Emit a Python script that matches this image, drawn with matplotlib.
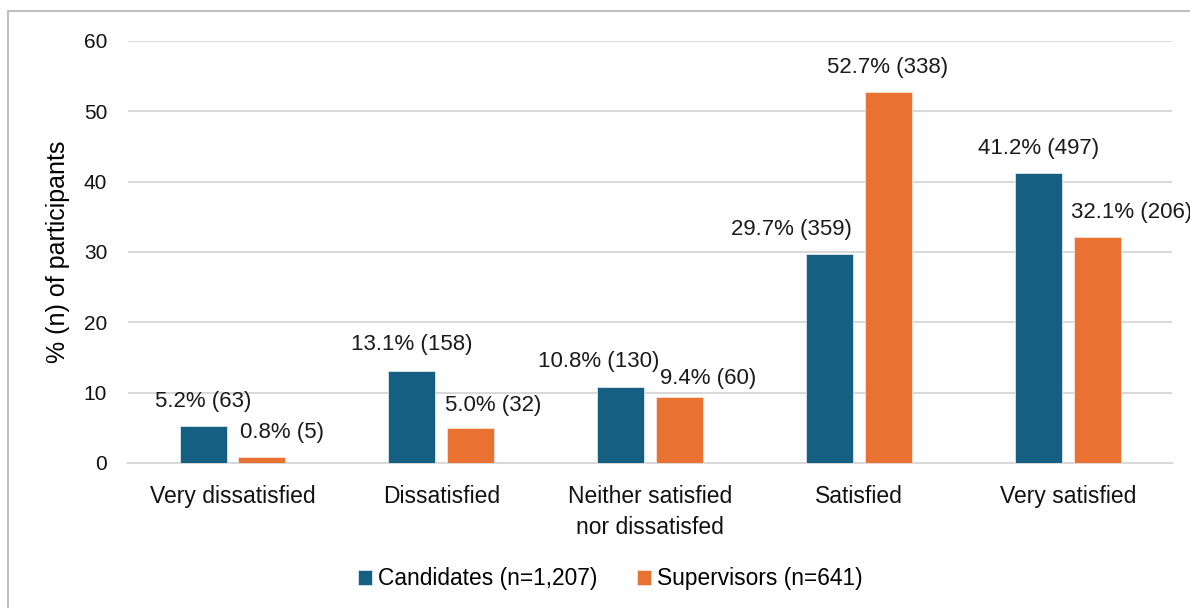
import numpy as np
import matplotlib.pyplot as plt
from matplotlib.patches import Rectangle

# -----------------------------
# Data
# -----------------------------
categories = ["Very dissatisfied", "Dissatisfied",
              "Neither satisfied\nnor dissatisfed", "Satisfied", "Very satisfied"]
cand_pct = [5.2, 13.1, 10.8, 29.7, 41.2]
cand_n = [63, 158, 130, 359, 497]
sup_pct = [0.8, 5.0, 9.4, 52.7, 32.1]
sup_n = [5, 32, 60, 338, 206]
series_names = ["Candidates (n=1,207)", "Supervisors (n=641)"]

# label nudges in pixels (dx, gap above bar top), as placed in the original
cand_dx = [0, 0, -22, -38, 0]
cand_gap = [25, 26, 26, 25, 25]
sup_dx = [20, 22, 29, -1, 34]
sup_gap = [25, 22, 18, 25, 25]

blue = "#156082"
orange = "#E97132"
grid_col = "#d9d9d9"
px = 0.72  # points per pixel at dpi 100

plt.rcParams['font.family'] = ['Liberation Sans', 'DejaVu Sans']

fig = plt.figure(figsize=(11.9, 6.08), dpi=100)
ax = fig.add_axes([0.1076, 0.2385, 0.8774, 0.6941])

x = np.arange(len(categories))
w = 0.225
off = 0.141

b1 = ax.bar(x - off, cand_pct, w, color=blue, edgecolor="#dbe7ee", linewidth=0.6,
            label=series_names[0], zorder=3)
b2 = ax.bar(x + off, sup_pct, w, color=orange, edgecolor="#fbe3d6", linewidth=0.6,
            label=series_names[1], zorder=3)

# data labels
for bars, pct, n, dxs, gaps in [(b1, cand_pct, cand_n, cand_dx, cand_gap),
                                (b2, sup_pct, sup_n, sup_dx, sup_gap)]:
    for rect, p, k, dx, g in zip(bars, pct, n, dxs, gaps):
        ax.annotate(f"{p:.1f}% ({k})",
                    xy=(rect.get_x() + rect.get_width() / 2, rect.get_height()),
                    xytext=(dx * px, g * px), textcoords="offset points",
                    ha="center", va="center", fontsize=16, color="#1a1a1a",
                    annotation_clip=False)

ax.set_xlim(-0.5, len(categories) - 0.5)
ax.set_ylim(0, 60)
ax.set_yticks(np.arange(0, 61, 10))
ax.yaxis.grid(True, color=grid_col, linewidth=1.5, zorder=0)
ax.set_axisbelow(True)
for s in ["top", "right", "left"]:
    ax.spines[s].set_visible(False)
ax.spines["bottom"].set_color(grid_col)
ax.spines["bottom"].set_linewidth(1.5)
ax.tick_params(axis="y", length=0, pad=15, labelsize=15, labelcolor="#111111")
ax.tick_params(axis="x", length=0, pad=16, labelsize=16.5, labelcolor="#111111")
ax.set_xticks(x)
ax.set_xticklabels(categories, va="top", linespacing=1.45)

ax.set_ylabel("% (n) of participants", fontsize=18, labelpad=10)

ax.legend(loc="center", bbox_to_anchor=(610 / 1190, 29 / 608),
          bbox_transform=fig.transFigure, ncol=2, frameon=False,
          fontsize=16.4, handlelength=0.62, handleheight=0.62, handletextpad=0.25,
          columnspacing=1.75)

# figure border
fig.patches.append(Rectangle((8 / 1190, -0.1), 1.2, 1.1 - 11 / 608,
                             transform=fig.transFigure, fill=False,
                             edgecolor="#bfbfbf", linewidth=1.5))

fig.savefig("out.png", dpi=100)
